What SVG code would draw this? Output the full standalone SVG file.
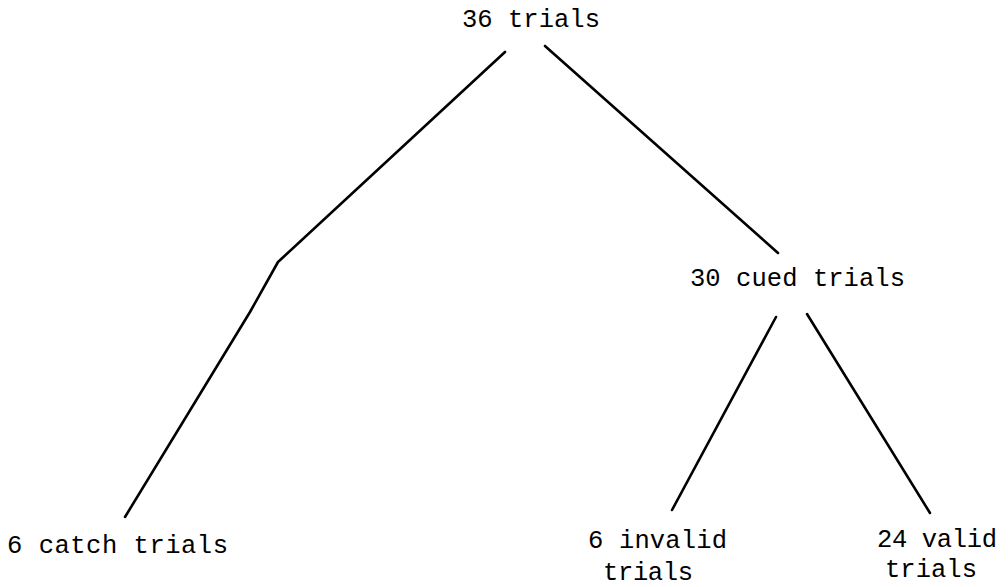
<svg xmlns="http://www.w3.org/2000/svg" width="1008" height="587" viewBox="0 0 1008 587">
<style>
  text { font-family: "Liberation Mono", "Courier New", monospace; font-size: 25.5px; fill: #000; }
  .edge { fill: none; stroke: #000; stroke-width: 2.6; stroke-linecap: round; stroke-linejoin: round; }
</style>
<rect width="1008" height="587" fill="#fff"/>
<g id="connectors">
  <polyline class="edge" points="505,52 278,262 250,312 125,517"/>
  <line class="edge" x1="545" y1="46" x2="778" y2="253"/>
  <line class="edge" x1="776" y1="317" x2="672" y2="510"/>
  <line class="edge" x1="807" y1="314" x2="930" y2="513"/>
</g>
<g id="root"><text x="462" y="27" textLength="138">36 trials</text></g>
<g id="cued"><text x="690" y="286" textLength="215">30 cued trials</text></g>
<g id="catch"><text x="7" y="553" textLength="221">6 catch trials</text></g>
<g id="invalid"><text x="588" y="548"><tspan x="588" textLength="139">6 invalid</tspan><tspan x="603" y="580" textLength="90">trials</tspan></text></g>
<g id="valid"><text x="877" y="547"><tspan x="877" textLength="120">24 valid</tspan><tspan x="885" y="577" textLength="92">trials</tspan></text></g>
</svg>
